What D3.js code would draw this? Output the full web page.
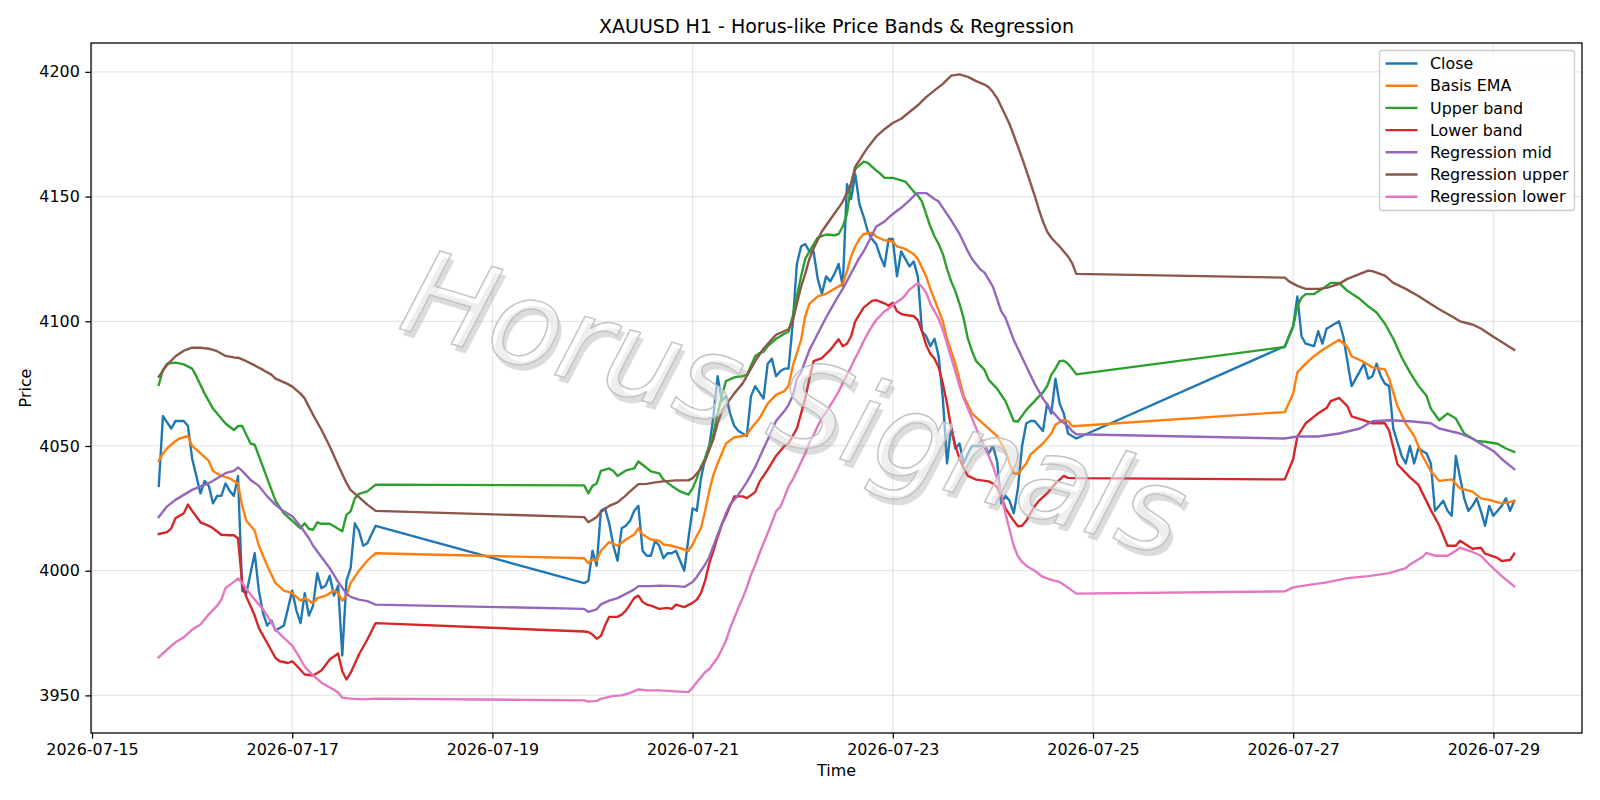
<!DOCTYPE html>
<html>
<head>
<meta charset="utf-8">
<script src="https://cdn.jsdelivr.net/npm/d3@7"></script>
<style>
  body { margin: 0; background: #fff; }
  text { font-family: "DejaVu Sans", sans-serif; fill: #000; }
</style>
</head>
<body>
<svg id="chart" width="1600" height="800"></svg>
<script>
// hours are counted from 2026-07-15 00:00 UTC, one bar per hour
const t0 = Date.UTC(2026, 6, 15);

const closeData = [
  [16,4034],[17,4062],[19,4057],[20,4060],[22,4060],[23,4058],[24,4045],[25,4038],[26,4031],[27,4036],[28,4034],[29,4027],[30,4030],[31,4030],[32,4035],[33,4032],[34,4030],[35,4038],[36,3992],[37,3991],[39,4007],[40,3992],[41,3983],[42,3978],[43,3980],[44,3976],[46,3978],[47,3985],[48,3992],[49,3984],[50,3979],[51,3991],[52,3982],[53,3986],[54,3999],[55,3993],[56,3994],[57,3998],[58,3990],[59,3994],[60,3966],[61,3996],[62,4001],[63,4019],[64,4016],[65,4010],[66,4011],[68,4018],
  [118,3995],[119,3996],[120,4008],[121,4002],[122,4024],[123,4025],[124,4019],[125,4010],[126,4004],[127,4017],[128,4018],[129,4020],[130,4024],[131,4026],[132,4008],[133,4006],[134,4006],[135,4012],[136,4010],[137,4005],[138,4007],[139,4007],[140,4008],[141,4004],[142,4000],[143,4013],[144,4025],[145,4024],[146,4037],[147,4045],[148,4050],[149,4062],[150,4078],[151,4068],[152,4070],[153,4063],[154,4058],[155,4056],[157,4054],[158,4070],[159,4074],[161,4069],[162,4083],[163,4085],[164,4078],[165,4080],[166,4081],[167,4081],[168,4099],[169,4123],[170,4130],[171,4131],[172,4128],[173,4128],[174,4117],[175,4111],[176,4118],[177,4116],[178,4119],[179,4123],[180,4114],[181,4155],[182,4149],[183,4159],[184,4147],[185,4142],[186,4136],[187,4133],[188,4131],[189,4126],[190,4122],[191,4133],[192,4133],[193,4118],[194,4128],[195,4125],[196,4122],[197,4124],[198,4118],[199,4096],[200,4094],[201,4090],[202,4093],[203,4086],[204,4069],[205,4043],[206,4058],[207,4049],[208,4051],[209,4043],[210,4047],[211,4050],[212,4050],[214,4050],[215,4047],[216,4050],[217,4044],[218,4027],[219,4030],[220,4028],[221,4023],[222,4033],[223,4050],[224,4059],[225,4060],[226,4060],[227,4058],[228,4056],[229,4067],[230,4063],[231,4077],[232,4067],[233,4063],[234,4055],[235,4054],[236,4053],
  [286,4090],[288,4098],[289,4110],[290,4094],[291,4091],[293,4090],[294,4096],[295,4091],[296,4097],[297,4098],[299,4100],[300,4094],[301,4084],[302,4074],[303,4077],[304,4080],[305,4083],[306,4077],[307,4078],[308,4083],[309,4078],[310,4075],[311,4074],[312,4057],[314,4046],[315,4043],[316,4050],[317,4043],[318,4049],[320,4047],[321,4043],[322,4024],[323,4026],[324,4028],[325,4024],[326,4022],[327,4046],[329,4029],[330,4024],[331,4026],[332,4029],[333,4024],[334,4018],[335,4026],[336,4022],[338,4026],[339,4029],[340,4024],[341,4028]
];

const basisData = [
  [16,4044],[17,4047],[18,4049],[20,4052],[21,4053],[23,4054],[24,4050],[26,4047],[28,4044],[29,4040],[31,4038],[33,4037],[35,4035],[36,4026],[37,4020],[39,4016],[40,4010],[42,4002],[44,3995],[46,3992],[48,3991],[50,3988],[51,3989],[53,3987],[54,3989],[56,3990],[58,3992],[59,3991],[60,3988],[61,3990],[62,3995],[64,4000],[66,4004],[68,4007],
  [118,4005],[119,4003],[120,4004.5],[121,4004],[122,4008],[124,4011.5],[126,4010],[128,4012.5],[130,4014.5],[131,4017],[132,4014.5],[134,4012.5],[136,4012],[137,4010.5],[139,4010],[141,4009],[143,4008],[144,4010.5],[145,4014],[146,4017],[147,4024],[148,4032],[149,4038.5],[150,4043],[151,4047],[152,4051],[154,4053.5],[156,4054],[157,4054.5],[158,4057],[160,4061],[161,4064],[162,4067],[164,4070.5],[166,4072],[167,4074],[168,4082],[170,4092.5],[171,4102],[172,4107],[174,4110],[176,4111],[178,4113],[180,4115],[181,4120],[182,4126],[183,4130],[184,4133],[185,4135],[187,4135.5],[188,4134],[190,4132.5],[192,4132],[193,4130],[195,4129],[197,4127],[198,4125],[200,4118],[201,4113],[204,4100],[205,4093],[207,4083],[209,4070],[211,4063],[213,4060],[215,4057],[217,4054],[219,4048],[220,4043],[221,4039],[222,4038.8],[224,4043],[225,4046.5],[227,4049.5],[228,4051],[230,4055],[231,4058.5],[233,4060.5],[234,4060],[235,4058],[236,4058],
  [286,4063.6],[288,4071],[289,4079.5],[291,4083],[293,4086],[295,4088.5],[297,4090.5],[299,4092.6],[301,4089.7],[302,4086],[305,4083.6],[307,4081.5],[310,4080.7],[311,4077],[313,4066],[315,4059],[317,4054],[319,4046],[321,4040],[323,4036],[326,4036.6],[328,4033],[331,4031.7],[333,4029],[335,4028.4],[338,4027],[340,4027.6],[341,4028]
];

const upperData = [
  [16,4074.5],[17,4080.5],[18,4083],[20,4083.4],[22,4082.7],[24,4081],[25,4078],[27,4071],[29,4065],[31,4061],[32,4059],[34,4056.4],[35,4058],[36,4058],[37,4054.5],[38,4051],[39,4050.5],[40,4046],[42,4037],[44,4028],[46,4023],[48,4020],[50,4017],[51,4019],[52,4016.7],[53,4016.4],[54,4019.4],[55,4018.8],[57,4018.8],[58,4017.8],[60,4015.8],[61,4022.4],[62,4023.8],[63,4029],[64,4030.8],[66,4031.8],[68,4034.5],
  [118,4034.2],[119,4031],[120,4034],[121,4035],[122,4040],[124,4041],[125,4040],[126,4038],[128,4040.2],[130,4041],[131,4043.8],[132,4042.5],[134,4039.8],[136,4039],[137,4036.5],[139,4034],[141,4031.8],[143,4030.5],[144,4033],[145,4037],[146,4041.8],[147,4045],[148,4050],[149,4055],[150,4063],[151,4070],[152,4076],[154,4077.5],[156,4078],[157,4078.5],[159,4086],[160,4087.2],[161,4087.8],[162,4090],[164,4093],[166,4095],[167,4095.8],[168,4102],[169,4110],[170,4118],[171,4125],[172,4128],[174,4133.5],[176,4134.8],[178,4134.5],[179,4135],[180,4138],[181,4143],[182,4155],[183,4161],[185,4164],[186,4163.5],[188,4160.5],[189,4159.2],[190,4157.5],[192,4157.5],[193,4157],[195,4156],[196,4154],[197,4152],[198,4150.5],[199,4148],[200,4143],[201,4138],[202,4134],[203,4131],[204,4127],[205,4121],[206,4116],[207,4112],[208,4107],[209,4101],[210,4093],[211,4088],[212,4084],[214,4080.5],[215,4076.5],[217,4073],[219,4068],[220,4064],[221,4060],[222,4059.8],[224,4064.5],[226,4068],[227,4069.8],[228,4071.5],[229,4074],[230,4078.5],[231,4081],[232,4084],[233,4084.2],[234,4083],[235,4081],[236,4078.7],
  [286,4089.7],[288,4098],[289,4106],[290,4109.5],[291,4110.9],[293,4110.9],[295,4113],[297,4115.4],[299,4115.4],[301,4112.2],[304,4108.9],[306,4106],[308,4103.5],[310,4099],[312,4093],[314,4085.6],[316,4079.5],[318,4074.2],[320,4070],[321,4065],[323,4060.3],[325,4063],[327,4061],[329,4055],[332,4052],[334,4051.7],[337,4050.9],[339,4049],[341,4047.6]
];

const lowerData = [
  [16,4014.7],[18,4015.5],[19,4017],[20,4021],[22,4023],[23,4026.5],[24,4024],[26,4019.4],[28,4018],[29,4017],[31,4014.4],[33,4014.2],[34,4014.2],[35,4013],[36,3995],[37,3989.5],[38,3985.8],[39,3982],[40,3977],[42,3971],[44,3965],[45,3963.7],[47,3963],[48,3963.7],[49,3962],[51,3958.4],[53,3958],[55,3960],[57,3964.4],[59,3966.8],[60,3959.7],[61,3956.4],[62,3959],[64,3966.4],[66,3972.4],[68,3979],
  [118,3975.6],[119,3975.4],[120,3974.4],[121,3972.7],[122,3973.8],[123,3978],[124,3981.5],[126,3981.5],[127,3982.4],[128,3984],[130,3989],[131,3990],[132,3987.5],[133,3986.4],[134,3986],[136,3984.7],[138,3985.1],[139,3984.7],[140,3986.4],[142,3985.4],[144,3987.1],[145,3988.4],[146,3991],[147,3996],[148,4003],[149,4008],[150,4013.5],[151,4018.5],[152,4022],[153,4026],[154,4029.8],[156,4029.8],[157,4029.1],[159,4031.5],[160,4035.5],[162,4040.5],[164,4046],[166,4050],[167,4051],[168,4054],[169,4057],[170,4063],[171,4069],[172,4077],[173,4084],[175,4085.2],[177,4088.5],[179,4092.8],[180,4090],[181,4091],[182,4094],[183,4100],[185,4105.5],[187,4108.2],[188,4108.5],[190,4107.2],[191,4106.2],[192,4107.4],[193,4104],[194,4103],[195,4102.5],[197,4102.1],[198,4100.5],[199,4096],[200,4090.5],[201,4087],[202,4085],[203,4081.5],[204,4075],[205,4067],[206,4057],[207,4050],[208,4045],[209,4041],[210,4038],[212,4036.5],[215,4035.8],[216,4035],[217,4033.5],[218,4030],[219,4025],[220,4022.5],[221,4020],[222,4017.8],[223,4018],[224,4020],[225,4023],[226,4025.8],[227,4028],[229,4031],[230,4033],[231,4035],[232,4036.5],[233,4038],[234,4037.2],[236,4037.1],
  [286,4036.6],[288,4044.8],[289,4053.8],[291,4059.1],[294,4063.1],[296,4065.2],[297,4068],[299,4069.3],[301,4066],[302,4061.9],[305,4060.3],[307,4059.1],[310,4059.1],[311,4056.2],[313,4042.7],[316,4037.4],[318,4034.5],[321,4024.3],[323,4018.2],[325,4010],[327,4010],[328,4012],[331,4008.8],[333,4009.2],[334,4006.8],[337,4005.1],[338,4003.9],[340,4004.3],[341,4006.8]
];

const regMidData = [
  [16,4021.5],[18,4025.8],[20,4028.4],[22,4030.4],[24,4032.4],[26,4033.8],[28,4035.1],[30,4037.1],[32,4039.1],[34,4040],[35,4041.4],[36,4040],[38,4036.4],[40,4034],[42,4029.8],[44,4026.4],[46,4023.8],[48,4021.8],[50,4017.8],[52,4013],[53,4010],[55,4005.5],[57,4001],[59,3995.5],[61,3990.8],[62,3989.5],[64,3988.4],[66,3987.8],[68,3986.4],
  [118,3984.7],[119,3983.5],[121,3984.5],[122,3986.5],[124,3988],[126,3989],[128,3990.7],[130,3992.5],[131,3993.8],[134,3993.8],[136,3994],[140,3993.8],[142,3993.5],[144,3995.5],[145,3997.5],[147,4002.5],[148,4005.5],[150,4014.4],[152,4023],[153,4026.5],[155,4030.5],[157,4035.5],[159,4041.5],[161,4049],[162,4052.5],[164,4060],[166,4064],[167,4066.5],[168,4070],[169,4077],[170,4079.5],[172,4088.5],[174,4095],[176,4101.5],[177,4104.5],[179,4110.3],[180,4113],[182,4119.2],[184,4125.5],[185,4128],[187,4134.5],[188,4137.9],[190,4140],[191,4141.6],[193,4144.3],[194,4145.5],[196,4148.5],[197,4150.2],[198,4151.4],[200,4151.4],[202,4149],[203,4148],[204,4145.5],[206,4140.5],[208,4135],[210,4128],[211,4125],[213,4120.8],[214,4119.5],[216,4113.9],[218,4104],[219,4101.5],[220,4097],[221,4092.5],[222,4089],[224,4082],[226,4075],[228,4069],[230,4064.3],[232,4060.5],[234,4058],[235,4056],[236,4054.7],
  [286,4053],[289,4053.8],[294,4053.8],[299,4055],[304,4057],[307,4059.9],[311,4060.3],[316,4059.9],[321,4059.1],[323,4057],[326,4055.8],[328,4055],[331,4052.9],[333,4050.9],[336,4048],[338,4044.8],[341,4040.7]
];

const regUpperData = [
  [16,4077.8],[18,4082.5],[20,4086],[22,4088.2],[24,4089.4],[26,4089.4],[28,4089],[30,4088],[32,4086.1],[34,4085.5],[35,4085.4],[37,4084],[39,4082.3],[41,4080.5],[43,4078.6],[44,4077],[47,4074.8],[48,4073.8],[50,4071],[51,4069],[53,4062.5],[55,4056.5],[57,4049.8],[59,4042.4],[61,4035.2],[62,4032.3],[64,4029.5],[66,4026.5],[68,4024],
  [118,4021.5],[119,4019.4],[120,4020.4],[121,4021.5],[122,4023.5],[124,4026],[126,4027.4],[128,4030.2],[129,4031.8],[131,4034.7],[133,4034.8],[135,4035.4],[137,4035.8],[140,4036.2],[143,4036.2],[144,4037.1],[145,4039],[146,4041],[147,4044],[148,4048.5],[149,4052.8],[150,4059.1],[151,4064],[152,4066.5],[154,4071.1],[156,4075.1],[158,4081],[159,4084],[161,4089],[163,4092.8],[164,4094.6],[166,4096.1],[167,4096.8],[168,4100],[169,4107],[170,4113.8],[171,4119],[172,4125],[173,4129.2],[175,4136],[177,4140.8],[179,4145.5],[180,4148],[181,4151.5],[182,4155.2],[183,4162],[184,4164.5],[185,4167.2],[186,4169.7],[188,4174],[190,4177],[192,4179.5],[194,4181.2],[196,4183.9],[198,4186.6],[200,4189.9],[202,4192.6],[204,4195.2],[206,4198.5],[208,4199],[210,4198],[212,4196.3],[214,4194.9],[215,4193.8],[216,4191.9],[217,4189.5],[218,4186],[219,4182.6],[220,4179],[221,4174.6],[222,4170],[223,4165.4],[224,4160.5],[225,4155.5],[226,4150.5],[227,4145],[228,4140],[229,4136],[230,4133.5],[231,4131.7],[232,4130],[233,4128],[234,4126],[235,4123.3],[236,4119],
  [286,4117.5],[287,4116],[289,4114.2],[291,4113],[294,4113],[296,4113.4],[299,4115],[301,4117],[304,4119],[306,4120.3],[307,4120.1],[310,4118.3],[312,4115.4],[315,4113],[318,4110.1],[321,4106.9],[323,4104.8],[326,4102],[328,4100],[331,4098.7],[333,4097.1],[336,4093.8],[338,4091.7],[341,4088.5]
];

const regLowerData = [
  [16,3965.3],[18,3968.4],[20,3971.3],[22,3973.3],[24,3976.4],[26,3978.4],[28,3982.5],[30,3986],[31,3988.4],[32,3993],[34,3995.5],[35,3996.9],[36,3995.1],[38,3990.5],[39,3988.4],[41,3984.6],[42,3982],[44,3976.4],[46,3973.1],[48,3970],[50,3964.5],[51,3961.5],[53,3958],[55,3955.1],[58,3952.3],[59,3951.2],[60,3949.1],[62,3948.7],[65,3948.4],[68,3948.7],
  [118,3948],[119,3947.5],[121,3947.8],[122,3948.6],[125,3949.8],[127,3950],[129,3951],[131,3952.4],[133,3952],[136,3952],[140,3951.6],[143,3951.3],[144,3953.1],[145,3955.3],[147,3959.3],[148,3960.6],[150,3965.1],[151,3968.4],[152,3972],[153,3977],[154,3981],[155,3985.3],[156,3989],[157,3993.3],[158,3998.4],[159,4002.2],[160,4006.8],[161,4011],[162,4015],[163,4019.3],[164,4023.8],[165,4025.5],[166,4029.4],[167,4033.8],[168,4036.5],[169,4040],[170,4043.5],[171,4047],[172,4051.5],[173,4054.4],[174,4058],[175,4061.2],[176,4063.5],[177,4066.3],[178,4069],[179,4071.8],[180,4075.2],[181,4078.5],[182,4081.8],[183,4085.3],[184,4088.5],[185,4092],[186,4095.2],[187,4098],[188,4100.5],[189,4102.2],[190,4104],[191,4105],[192,4106.5],[193,4107.7],[194,4108.8],[195,4110.5],[196,4112.7],[197,4114],[198,4115.3],[199,4113.8],[200,4111.5],[201,4107],[202,4104],[203,4101],[204,4096.5],[205,4091],[206,4085.3],[207,4079.8],[208,4074],[209,4069],[210,4065],[211,4061],[212,4057],[213,4053],[214,4049.8],[215,4046],[216,4042],[217,4037],[218,4030.5],[219,4023],[220,4016.4],[221,4010],[222,4005.8],[223,4003.5],[224,4002],[226,4000],[228,3997.5],[230,3996.3],[232,3995.5],[233,3994.4],[235,3992],[236,3990.8],
  [286,3991.7],[288,3993.3],[291,3994.1],[296,3995.3],[301,3997],[306,3997.8],[311,3999],[313,4000],[315,4001],[316,4002.5],[317,4003.5],[319,4005.5],[320,4007.2],[321,4006.5],[322,4006],[325,4006],[327,4008],[328,4009.2],[331,4007.5],[333,4006],[335,4002.5],[338,3997.8],[341,3993.7]
];

const seriesNames = ["Close", "Basis EMA", "Upper band", "Lower band", "Regression mid", "Regression upper", "Regression lower"];
const seriesData = [closeData, basisData, upperData, lowerData, regMidData, regUpperData, regLowerData];
const colors = ["#1f77b4", "#ff7f0e", "#2ca02c", "#d62728", "#9467bd", "#8c564b", "#e377c2"];
const xTickLabels = ["2026-07-15", "2026-07-17", "2026-07-19", "2026-07-21", "2026-07-23", "2026-07-25", "2026-07-27", "2026-07-29"];
const yTickValues = [3950, 4000, 4050, 4100, 4150, 4200];

const titleText = "XAUUSD H1 - Horus-like Price Bands & Regression";
const watermarkText = "Horus Signals";

const toDate = h => new Date(t0 + h * 3600e3);

const W = 1600, H = 800;
const margin = {top: 43, right: 18, bottom: 67, left: 91};
const width = W - margin.left - margin.right;
const height = H - margin.top - margin.bottom;

const svg = d3.select("#chart");
const g = svg.append("g").attr("transform", `translate(${margin.left},${margin.top})`);

// matplotlib-like 5% margins around the data
const allPts = seriesData.flat();
const hExt = d3.extent(allPts, d => d[0]);
const vExt = d3.extent(allPts, d => d[1]);
const hPad = (hExt[1] - hExt[0]) * 0.05, vPad = (vExt[1] - vExt[0]) * 0.05;

const x = d3.scaleUtc()
  .domain([toDate(hExt[0] - hPad), toDate(hExt[1] + hPad)])
  .range([0, width]);
const y = d3.scaleLinear()
  .domain([vExt[0] - vPad, vExt[1] + vPad])
  .range([height, 0]);

const xTicks = xTickLabels.map(s => new Date(s + "T00:00:00Z"));

// grid
g.append("g").selectAll("line").data(xTicks).join("line")
  .attr("x1", d => x(d)).attr("x2", d => x(d))
  .attr("y1", 0).attr("y2", height)
  .attr("stroke", "#b0b0b0").attr("stroke-opacity", 0.3).attr("stroke-width", 1.27);
g.append("g").selectAll("line").data(yTickValues).join("line")
  .attr("x1", 0).attr("x2", width)
  .attr("y1", d => y(d)).attr("y2", d => y(d))
  .attr("stroke", "#b0b0b0").attr("stroke-opacity", 0.3).attr("stroke-width", 1.27);

// series
const line = d3.line().x(d => x(toDate(d[0]))).y(d => y(d[1]));
g.append("g").selectAll("path").data(seriesData).join("path")
  .attr("d", line)
  .attr("fill", "none")
  .attr("stroke", (d, i) => colors[i])
  .attr("stroke-width", 2.38)
  .attr("stroke-linejoin", "round")
  .attr("stroke-linecap", "square");

// watermark, drawn over the lines
const wm = svg.append("g").attr("transform", "translate(795,403) rotate(16.5)");
wm.append("text")
  .attr("x", 5).attr("y", 5)
  .attr("text-anchor", "middle").attr("dominant-baseline", "central")
  .attr("font-size", 118).attr("font-style", "italic")
  .style("fill", "#8c8c8c").style("fill-opacity", 0.3)
  .text(watermarkText);
wm.append("text")
  .attr("text-anchor", "middle").attr("dominant-baseline", "central")
  .attr("font-size", 118).attr("font-style", "italic")
  .style("fill", "#ffffff").style("fill-opacity", 0.5)
  .attr("stroke", "#c4c4c4").attr("stroke-width", 1.5)
  .text(watermarkText);

// axes
const xAxis = d3.axisBottom(x).tickValues(xTicks).tickFormat(d3.utcFormat("%Y-%m-%d"))
  .tickSize(5.6).tickPadding(5.6);
const yAxis = d3.axisLeft(y).tickValues(yTickValues).tickFormat(d3.format("d"))
  .tickSize(5.6).tickPadding(5.6);

const gx = g.append("g").attr("transform", `translate(0,${height})`).call(xAxis);
const gy = g.append("g").call(yAxis);
[gx, gy].forEach(ax => {
  ax.select(".domain").remove();
  ax.selectAll(".tick line").attr("stroke", "#000").attr("stroke-width", 1.27);
  ax.selectAll(".tick text").attr("font-size", 15.9).attr("font-family", "DejaVu Sans").style("fill", "#000");
});

// frame
g.append("rect").attr("width", width).attr("height", height)
  .attr("fill", "none").attr("stroke", "#000").attr("stroke-width", 1.27);

// labels
svg.append("text").attr("x", margin.left + width / 2).attr("y", 33)
  .attr("text-anchor", "middle").attr("font-size", 19).text(titleText);
svg.append("text").attr("x", margin.left + width / 2).attr("y", 776)
  .attr("text-anchor", "middle").attr("font-size", 15.9).text("Time");
svg.append("text").attr("transform", `translate(31,${margin.top + height / 2}) rotate(-90)`)
  .attr("text-anchor", "middle").attr("font-size", 15.9).text("Price");

// legend
const lg = svg.append("g").attr("transform", "translate(1379.5,50.5)");
lg.append("rect").attr("width", 195).attr("height", 160).attr("rx", 3)
  .attr("fill", "#fff").attr("fill-opacity", 0.8)
  .attr("stroke", "#cccccc").attr("stroke-width", 1.27);
const rows = lg.selectAll("g.row").data(seriesNames).join("g")
  .attr("class", "row")
  .attr("transform", (d, i) => `translate(0,${13 + i * 22.2})`);
rows.append("line").attr("x1", 6).attr("x2", 38)
  .attr("stroke", (d, i) => colors[i]).attr("stroke-width", 2.38);
rows.append("text").attr("x", 50.5).attr("dy", "0.36em")
  .attr("font-size", 15.9).text(d => d);
</script>
</body>
</html>
